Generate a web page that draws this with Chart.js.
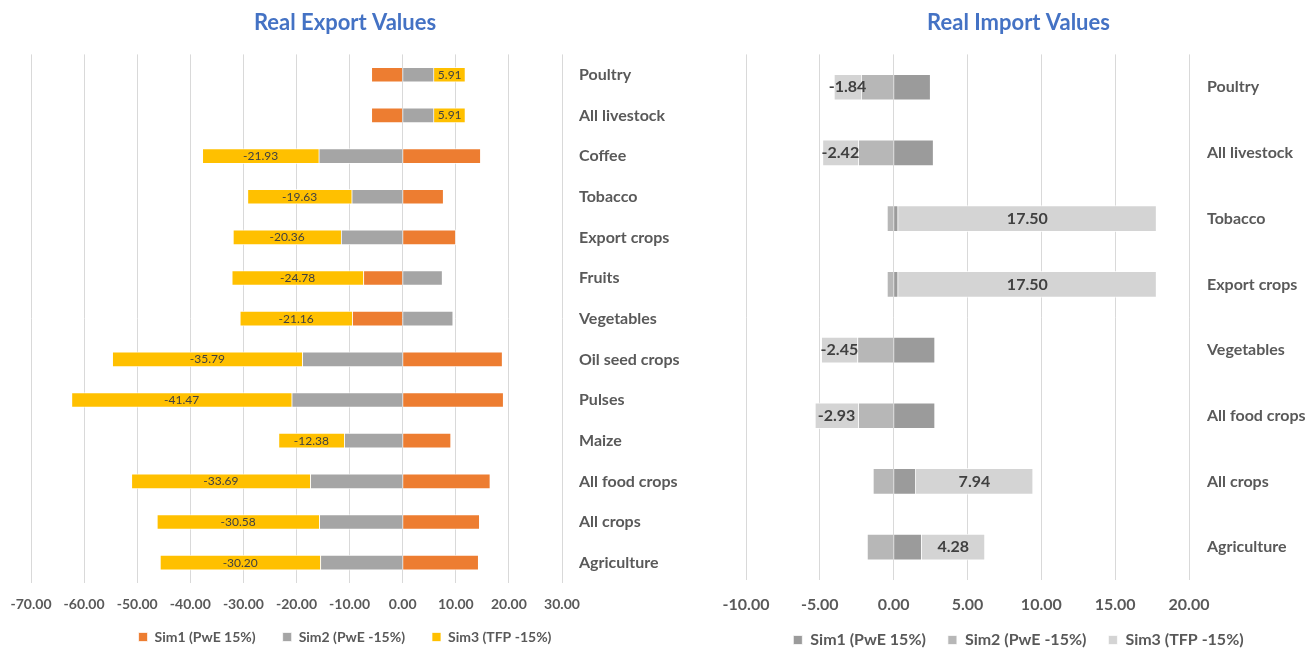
<!DOCTYPE html>
<html>
<head>
<meta charset="utf-8">
<script src="https://cdn.jsdelivr.net/npm/chart.js@4.4.1/dist/chart.umd.min.js"></script>
<style>
  body { margin: 0; background: #fff; width: 1315px; height: 650px; position: relative; overflow: hidden; }
  .box { position: absolute; top: 0; height: 650px; }
</style>
</head>
<body>
<div class="box" style="left:8px;width:674px"><canvas id="exportChart"></canvas></div>
<div class="box" style="left:722px;width:593px"><canvas id="importChart"></canvas></div>
<script>
// Series names (shared by both charts)
const seriesNames = ['Sim1 (PwE 15%)', 'Sim2 (PwE -15%)', 'Sim3 (TFP -15%)']

// Real export values
const exportCategories = ['Poultry', 'All livestock', 'Coffee', 'Tobacco', 'Export crops', 'Fruits', 'Vegetables',
  'Oil seed crops', 'Pulses', 'Maize', 'All food crops', 'All crops', 'Agriculture']
const exportSim1 = [-5.9, -5.9, 14.7, 7.7, 10.0, -7.4, -9.5, 18.8, 19.0, 9.1, 16.5, 14.5, 14.3]
const exportSim2 = [5.9, 5.9, -15.8, -9.6, -11.6, 7.5, 9.5, -18.9, -20.9, -11.0, -17.4, -15.7, -15.5]
const exportSim3 = [5.91, 5.91, -21.93, -19.63, -20.36, -24.78, -21.16, -35.79, -41.47, -12.38, -33.69, -30.58, -30.20]
const exportAxis = [-70, 30, 10] // min, max, step

// Real import values
const importCategories = ['Poultry', 'All livestock', 'Tobacco', 'Export crops', 'Vegetables', 'All food crops',
  'All crops', 'Agriculture']
const importSim1 = [2.5, 2.7, 0.3, 0.3, 2.8, 2.8, 1.5, 1.9]
const importSim2 = [-2.2, -2.4, -0.45, -0.45, -2.45, -2.4, -1.4, -1.8]
const importSim3 = [-1.84, -2.42, 17.50, 17.50, -2.45, -2.93, 7.94, 4.28]
const importAxis = [-10, 20, 5]

const FONT = 'Lato, "Open Sans", sans-serif'
const GREY_TEXT = '#595959'

// Draws the value in the middle of the bars of datasets flagged with showLabels
const barLabels = {
  id: 'barLabels',
  afterDatasetsDraw(chart, args, opts) {
    const { ctx } = chart
    chart.data.datasets.forEach((ds, i) => {
      if (!ds.showLabels) return
      chart.getDatasetMeta(i).data.forEach((bar, j) => {
        const p = bar.getCenterPoint()
        ctx.save()
        ctx.font = opts.font
        ctx.fillStyle = opts.color
        ctx.textAlign = 'center'
        ctx.textBaseline = 'middle'
        ctx.fillText(ds.data[j].toFixed(2), p.x, p.y)
        ctx.restore()
      })
    })
  }
}

// The x axis box is kept thin so the legend can sit close; let its tick labels draw below it
const looseTickClip = {
  id: 'looseTickClip',
  afterLayout(chart) {
    chart.scales.x.bottom = chart.height
  }
}

function makeChart(id, cfg) {
  const datasets = cfg.values.map((vals, i) => ({
    label: seriesNames[i],
    data: vals,
    backgroundColor: cfg.colors[i],
    borderColor: 'rgba(255,255,255,0.7)',
    borderWidth: 1,
    barThickness: cfg.barThickness,
    showLabels: i === 2
  }))

  return new Chart(document.getElementById(id), {
    type: 'bar',
    data: { labels: cfg.categories, datasets },
    plugins: [barLabels, looseTickClip],
    options: {
      indexAxis: 'y',
      responsive: true,
      maintainAspectRatio: false,
      animation: false,
      layout: { padding: 0 },
      scales: {
        x: {
          stacked: true,
          min: cfg.axis[0],
          max: cfg.axis[1],
          afterFit: (scale) => {
            scale.height = cfg.xHeight
            scale.paddingLeft = cfg.padLeft
          },
          grid: { color: '#d9d9d9', drawTicks: false },
          border: { display: false },
          ticks: {
            stepSize: cfg.axis[2],
            padding: cfg.tickPad,
            color: GREY_TEXT,
            font: { family: FONT, size: cfg.tickSize, weight: 'bold' },
            callback: (v) => Number(v).toFixed(2)
          }
        },
        y: {
          stacked: true,
          position: 'right',
          afterFit: (scale) => { scale.width = cfg.yWidth },
          grid: { display: false, drawTicks: false },
          border: { display: false },
          ticks: {
            padding: cfg.catPad,
            color: GREY_TEXT,
            font: { family: FONT, size: 16, weight: 'bold' }
          }
        }
      },
      plugins: {
        title: {
          display: true,
          text: cfg.title,
          color: '#4472C4',
          font: { family: FONT, size: 22, weight: 'bold' },
          padding: { top: 10, bottom: 18 }
        },
        legend: {
          position: 'bottom',
          maxHeight: cfg.legendHeight,
          labels: {
            boxWidth: 9,
            boxHeight: 9,
            padding: cfg.legendPad,
            color: GREY_TEXT,
            font: { family: FONT, size: cfg.legendSize, weight: 'bold' }
          }
        },
        tooltip: { enabled: false },
        barLabels: { font: cfg.labelFont, color: '#404040' }
      }
    }
  })
}

makeChart('exportChart', {
  title: 'Real Export Values',
  categories: exportCategories,
  values: [exportSim1, exportSim2, exportSim3],
  colors: ['#ED7D31', '#A5A5A5', '#FFC000'],
  axis: exportAxis,
  barThickness: 15,
  padLeft: 23,
  yWidth: 120,
  catPad: 17,
  xHeight: 20,
  tickPad: 13,
  tickSize: 14,
  legendHeight: 47,
  legendPad: 27,
  legendSize: 14,
  labelFont: '12px ' + FONT
})

makeChart('importChart', {
  title: 'Real Import Values',
  categories: importCategories,
  values: [importSim1, importSim2, importSim3],
  colors: ['#9B9B9B', '#B7B7B7', '#D4D4D4'],
  axis: importAxis,
  barThickness: 26,
  padLeft: 24,
  yWidth: 126,
  catPad: 18,
  xHeight: 30,
  tickPad: 15,
  tickSize: 16,
  legendHeight: 40,
  legendPad: 22,
  legendSize: 16,
  labelFont: 'bold 16px ' + FONT
})
</script>
</body>
</html>
